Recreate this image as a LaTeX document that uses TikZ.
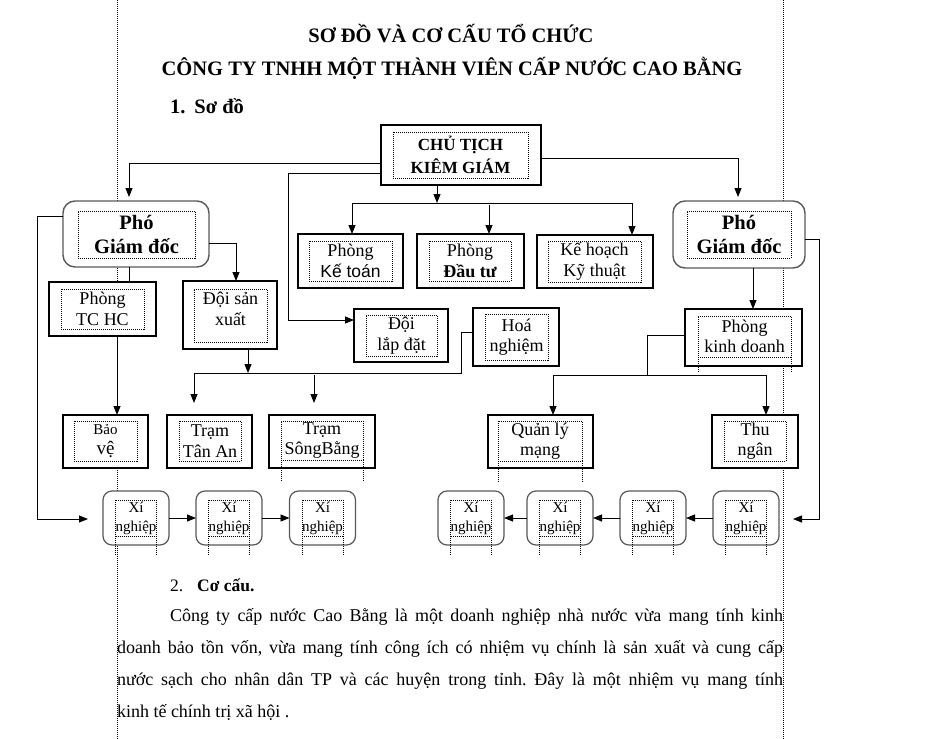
\documentclass[tikz,border=0pt]{standalone}
\usepackage{fontspec}
\setmainfont{Liberation Serif}
\newfontfamily\sansvn{Liberation Sans}
\usetikzlibrary{arrows.meta,calc}
\frenchspacing

\begin{document}
\begin{tikzpicture}[x=1pt,y=-1pt,
    every node/.style={inner sep=0pt,outer sep=0pt},
    box/.style={draw,fill=white,line width=1.1pt},
    rbox/.style={draw=black!65,fill=white,line width=1.4pt,rounded corners=12pt},
    xbox/.style={draw=black!65,fill=white,line width=1.2pt,rounded corners=9pt,
      minimum width=66,minimum height=54},
    inbox/.style={draw,dash pattern=on 1pt off 1pt,line width=0.8pt,align=center,
      font=\fontsize{18}{20.5}\selectfont},
    dots/.style={dash pattern=on 1pt off 1pt,line width=0.8pt},
    arr/.style={line width=0.9pt,-{Triangle[length=9pt,width=7pt]}},
    link/.style={line width=0.9pt}]
  \useasboundingbox (0,0) rectangle (948,739);
  % le trang
  \draw[dots] (117,0) -- (117,739);
  \draw[dots] (783,0) -- (783,739);

  % tieu de
  \node[anchor=base,font=\bfseries\fontsize{20.5}{24}\selectfont] (tieude1) at (451,42)
    {SƠ ĐỒ VÀ CƠ CẤU TỔ CHỨC};
  \node[anchor=base,font=\bfseries\fontsize{20.5}{24}\selectfont] (tieude2) at (452,75)
    {CÔNG TY TNHH MỘT THÀNH VIÊN CẤP NƯỚC CAO BẰNG};
  \node[anchor=base west,font=\bfseries\fontsize{20.5}{24}\selectfont] (muc1) at (170,113)
    {1.\hspace{9pt}Sơ đồ};

  % chu tich
  \node[box,minimum width=160,minimum height=60] (ct) at (461,155) {};
  \node[inbox,minimum width=135,minimum height=46,font=\bfseries\fontsize{17}{23}\selectfont]
    (ct-t) at (460.5,155) {CHỦ TỊCH\\KIÊM GIÁM};

  % pho giam doc
  \node[rbox,minimum width=146,minimum height=66] (pgl) at (136,234) {};
  \node[inbox,minimum width=117,minimum height=47,font=\bfseries\fontsize{20.5}{24}\selectfont]
    (pgl-t) at (136.5,234.5) {Phó\\Giám đốc};
  \node[rbox,minimum width=132,minimum height=67] (pgr) at (739,234.5) {};
  \node[inbox,minimum width=104,minimum height=47,font=\bfseries\fontsize{20.5}{24}\selectfont]
    (pgr-t) at (739,234.5) {Phó\\Giám đốc};

  % cac phong
  \node[box,minimum width=105,minimum height=54] (kt) at (350.5,261) {};
  \node[inbox,minimum width=83,minimum height=40] (kt-t) at (350.5,261)
    {Phòng\\{\sansvn\fontsize{17.5}{20.5}\selectfont Kế toán}};
  \node[box,minimum width=107,minimum height=54] (dt) at (470.5,261) {};
  \node[inbox,minimum width=82,minimum height=40] (dt-t) at (470,261) {Phòng\\\textbf{Đầu tư}};
  \node[box,minimum width=116,minimum height=53] (kh) at (595,261.5) {};
  \node[inbox,minimum width=93,minimum height=41] (kh-t) at (594.5,261.5) {Kế hoạch\\Kỹ thuật};

  \node[box,minimum width=107,minimum height=54] (tchc) at (102.5,309) {};
  \node[inbox,minimum width=83,minimum height=40] (tchc-t) at (102.5,309) {Phòng\\TC HC};
  \node[box,minimum width=94,minimum height=68] (dsx) at (230,315) {};
  \node[inbox,minimum width=73,minimum height=53] (dsx-k) at (230.5,315.5) {};
  \node[align=center,font=\fontsize{18}{20.5}\selectfont] (dsx-t) at (230.5,309) {Đội sản\\xuất};
  \node[box,minimum width=94,minimum height=53] (ldd) at (401,335.5) {};
  \node[inbox,minimum width=71,minimum height=41] (ldd-t) at (401.5,335.5) {Đội\\lắp đặt};
  \node[box,minimum width=86,minimum height=58] (hn) at (516,337) {};
  \node[inbox,minimum width=63,minimum height=46] (hn-t) at (516.5,337) {Hoá\\nghiệm};
  \node[box,minimum width=117,minimum height=57] (pkd) at (743.5,337.5) {};
  \node[inbox,minimum width=93,minimum height=41] (pkd-t) at (744.5,336.5) {Phòng\\kinh doanh};
  \draw[dots] (pkd-t.south west) -- ++(0,16) (pkd-t.south east) -- ++(0,16);

  % tram, to
  \node[box,minimum width=85,minimum height=53] (bv) at (105.5,441.5) {};
  \node[inbox,minimum width=63,minimum height=40] (bv-t) at (105.5,441)
    {{\fontsize{15}{20.5}\selectfont Bảo}\\{\fontsize{19}{20.5}\selectfont vệ}};
  \node[box,minimum width=85,minimum height=53] (tan) at (209.5,441.5) {};
  \node[inbox,minimum width=62,minimum height=40] (tan-t) at (210,441) {Trạm\\Tân An};
  \node[box,minimum width=106,minimum height=53] (tsb) at (322,441.5) {};
  \node[inbox,minimum width=82,minimum height=39] (tsb-t) at (322,440.5) {Trạm\\SôngBằng};
  \draw[dots] (tsb-t.south west) -- ++(0,22) (tsb-t.south east) -- ++(0,22);
  \node[box,minimum width=105,minimum height=53] (qlm) at (540.5,441.5) {};
  \node[inbox,minimum width=84,minimum height=40] (qlm-t) at (540,441) {Quản lý\\mạng};
  \draw[dots] (qlm-t.south west) -- ++(0,21) (qlm-t.south east) -- ++(0,21);
  \node[box,minimum width=86,minimum height=53] (thu) at (755,441.5) {};
  \node[inbox,minimum width=62,minimum height=40] (thu-t) at (755,441) {Thu\\ngân};

  % xi nghiep
  \foreach \ten/\x in {xl1/136,xl2/229,xl3/322.5,xr1/471,xr2/560,xr3/653,xr4/746}{
    \node[xbox] (\ten) at (\x,518) {};
    \node[inbox,minimum width=39,minimum height=36,font=\fontsize{15}{19}\selectfont]
      (\ten-t) at (\x,518) {Xí\\nghiệp};
    \draw[dots] (\ten-t.south west) -- ++(0,19) (\ten-t.south east) -- ++(0,19);
  }

  % noi tu chu tich
  \draw[arr] ($(ct.west)+(0,8)$) -| ($(pgl.north)+(-7,-4)$);
  \draw[arr] ($(ct.east)+(0,3)$) -| ($(pgr.north)+(-1,-4)$);
  \coordinate (goc-ld) at (288,320);
  \draw[arr] ($(ct.west)+(0,18)$) -| (goc-ld) -- (goc-ld -| ldd.west);
  \coordinate (re1) at (437,203);
  \coordinate (re1-l) at (352,203);
  \coordinate (re1-r) at (632,203);
  \draw[arr] (ct.south -| re1) -- (re1);
  \draw[link] (re1-l) -- (re1-r);
  \draw[arr] (re1-l) -- (re1-l |- kt.north);
  \draw[arr] ($(re1)+(52,2)$) -- ($(dt.north)+(18.5,0)$);
  \draw[arr] (re1-r) -- (re1-r |- kh.north);

  % pho giam doc trai
  \coordinate (goc-l) at (37,519);
  \draw[arr] ($(pgl.west)+(0,-18)$) -| (goc-l) -- ($(xl1.west)+(-15,1)$);
  \draw[arr] ($(pgl.east)+(0,9)$) -| ($(dsx.north)+(6,0)$);
  \draw[link] ($(pgl.south)+(-7,0)$) -- ($(tchc.north)+(26.5,0)$);
  \draw[arr] ($(tchc.south)+(14.5,0)$) -- ($(bv.north)+(11.5,0)$);
  \coordinate (re2) at (248,373);
  \coordinate (re2-l) at (194,373);
  \draw[arr] (dsx.south -| re2) -- (re2);
  \draw[link] ($(hn.west)+(0,-5)$) -- ++(-12,0) |- (re2-l);
  \draw[arr] (re2-l) -- ($(tan.north)+(-15.5,-12)$);
  \draw[arr] ($(tsb.north)+(-8,-40)$) -- ($(tsb.north)+(-8,-12)$);
  \draw[arr] (xl1) -- (xl2);
  \draw[arr] (xl2) -- (xl3);

  % pho giam doc phai
  \draw[arr] ($(pgr.south)+(14,0)$) -- ($(pkd.north)+(9.5,0)$);
  \coordinate (goc-r) at (819,519);
  \draw[arr] ($(pgr.east)+(0,4.5)$) -| (goc-r) -- ($(xr4.east)+(14,1)$);
  \coordinate (re3) at (647,375);
  \coordinate (re3-l) at (553,375);
  \coordinate (re3-r) at (766,375);
  \draw[link] ($(pkd.west)+(0,-2.5)$) -| (re3);
  \draw[link] (re3-l) -- (re3-r);
  \draw[arr] (re3-l) -- (re3-l |- qlm.north);
  \draw[arr] (re3-r) -- (re3-r |- thu.north);
  \draw[arr] (xr4) -- (xr3);
  \draw[arr] (xr3) -- (xr2);
  \draw[arr] (xr2) -- (xr1);

  % co cau
  \node[anchor=base west,font=\fontsize{17.5}{20}\selectfont] (muc2) at (170,591)
    {2.\hspace{14pt}\textbf{Cơ cấu.}};
  \node[anchor=base west,font=\fontsize{18}{20}\selectfont] (dong1) at (170,621)
    {\makebox[613pt][s]{Công ty cấp nước Cao Bằng là một doanh nghiệp nhà nước vừa mang tính kinh}};
  \node[anchor=base west,font=\fontsize{18}{20}\selectfont] (dong2) at (117,653)
    {\makebox[666pt][s]{doanh bảo tồn vốn, vừa mang tính công ích có nhiệm vụ chính là sản xuất và cung cấp}};
  \node[anchor=base west,font=\fontsize{18}{20}\selectfont] (dong3) at (117,685)
    {\makebox[666pt][s]{nước sạch cho nhân dân TP và các huyện trong tỉnh. Đây là một nhiệm vụ mang tính}};
  \node[anchor=base west,font=\fontsize{18}{20}\selectfont] (dong4) at (117,717)
    {kinh tế chính trị xã hội .};
\end{tikzpicture}
\end{document}
